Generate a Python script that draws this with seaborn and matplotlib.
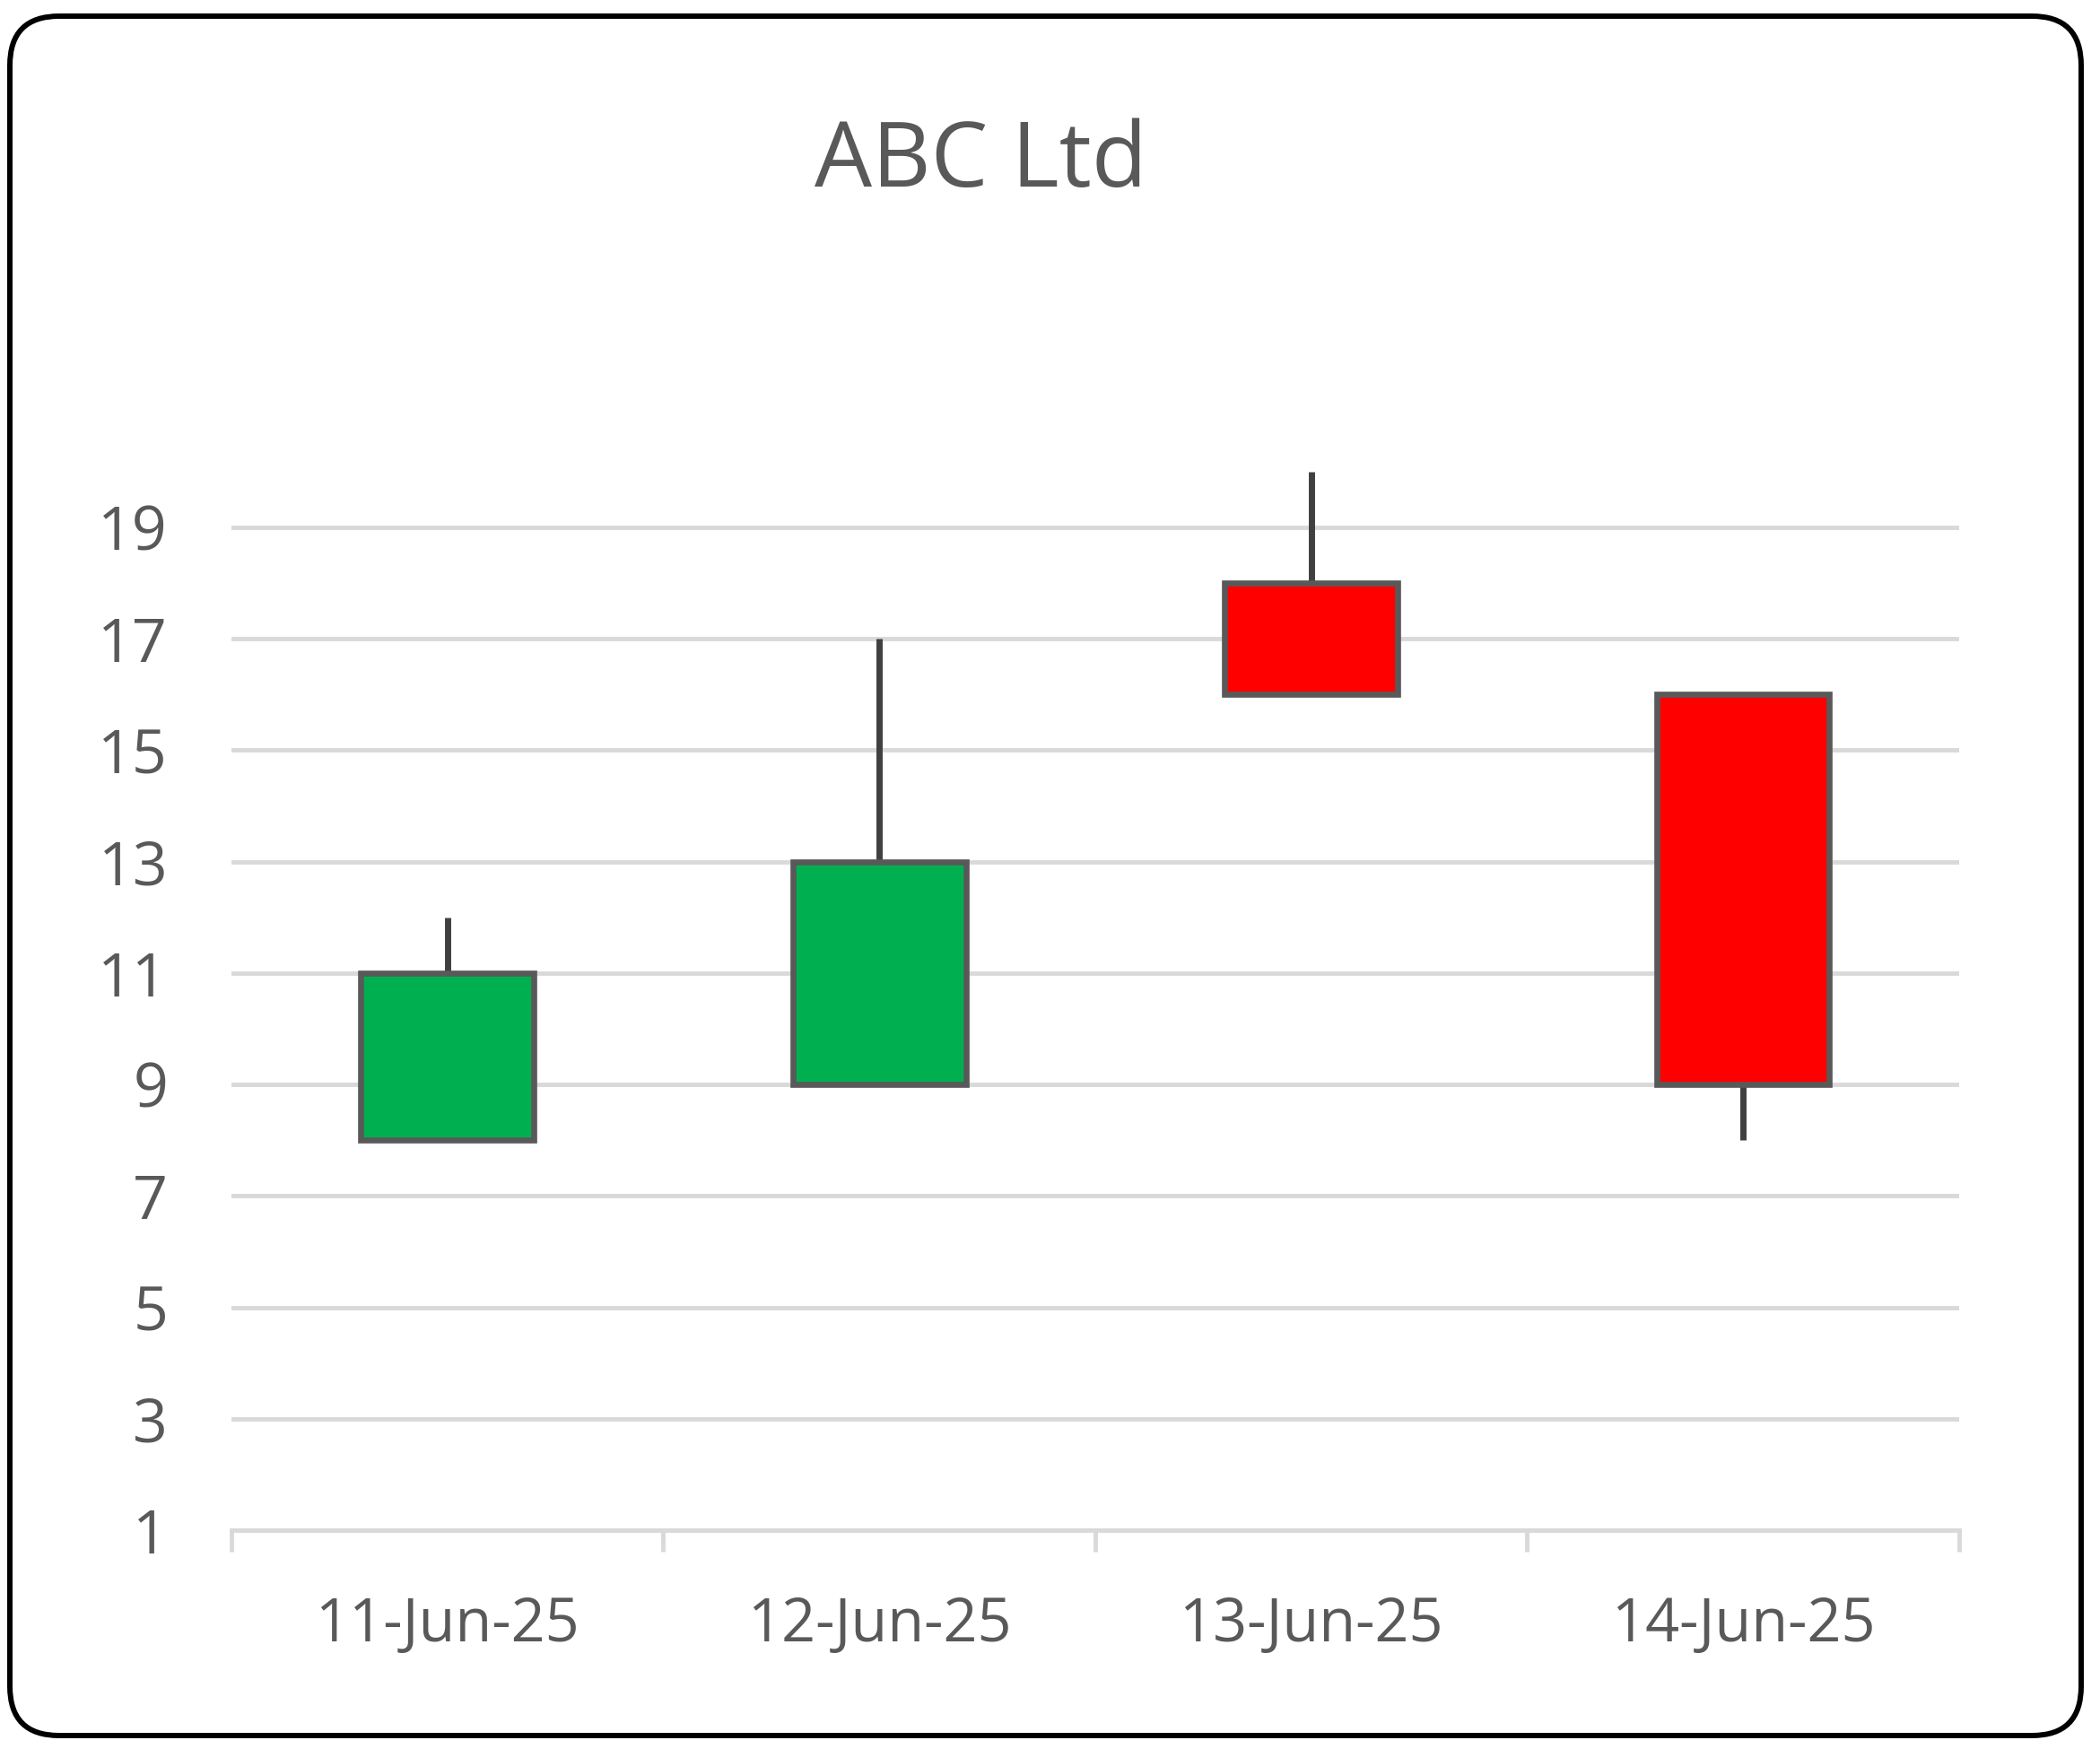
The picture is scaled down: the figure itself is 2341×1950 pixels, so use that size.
import matplotlib
matplotlib.use("Agg")
import matplotlib.pyplot as plt
from matplotlib.patches import FancyBboxPatch
from matplotlib.transforms import IdentityTransform
import seaborn as sns

# Dados OHLC
dates = ['11-Jun-25', '12-Jun-25', '13-Jun-25', '14-Jun-25']
open_prices = [8, 9, 18, 16]
high_prices = [12, 17, 20, 16]
low_prices = [8, 9, 16, 8]
close_prices = [11, 13, 16, 9]
y_ticks = [1, 3, 5, 7, 9, 11, 13, 15, 17, 19]

up_color = '#00B050'
down_color = '#FF0000'
text_color = '#595959'
grid_color = '#D9D9D9'

body_bottom = [min(o, c) for o, c in zip(open_prices, close_prices)]
body_height = [abs(c - o) for o, c in zip(open_prices, close_prices)]
body_colors = [up_color if c > o else down_color
               for o, c in zip(open_prices, close_prices)]

sns.set_style('white')
plt.rcParams['font.family'] = ['Open Sans', 'DejaVu Sans']

fig = plt.figure(figsize=(23.41, 19.5), dpi=100)
ax = fig.add_axes([0.1102, 0.1251, 0.8227, 0.6052])

# Pavios
ax.vlines(range(len(dates)), low_prices, high_prices,
          color='#404040', linewidth=5, zorder=2)

# Corpos
sns.barplot(x=dates, y=body_height, bottom=body_bottom, width=0.4,
            errorbar=None, color=up_color, saturation=1,
            edgecolor=text_color, linewidth=4.8, zorder=3, ax=ax)
for patch, c in zip(ax.patches, body_colors):
    patch.set_facecolor(c)

ax.set_xlim(-0.5, len(dates) - 0.5)
ax.set_ylim(1, 20)
ax.set_yticks(y_ticks)
ax.set_xticks(range(len(dates)))
ax.set_xticklabels(dates)
ax.set_xticks([i - 0.5 for i in range(len(dates) + 1)], minor=True)

ax.yaxis.grid(True, color=grid_color, linewidth=3.5)
ax.xaxis.grid(False)
ax.set_axisbelow(True)
for side in ['left', 'top', 'right']:
    ax.spines[side].set_visible(False)
ax.spines['bottom'].set_color(grid_color)
ax.spines['bottom'].set_linewidth(3.5)

ax.tick_params(axis='y', length=0, pad=51, labelsize=49, labelcolor=text_color)
ax.tick_params(axis='x', which='major', length=0, pad=52, labelsize=48,
               labelcolor=text_color)
ax.tick_params(axis='x', which='minor', bottom=True, length=17, width=3.5,
               color=grid_color, direction='out')
ax.set_xlabel('')
ax.set_ylabel('')

fig.text(0.467, 0.8933, 'ABC Ltd', ha='center', va='baseline',
         fontsize=73, color=text_color)

# Borda arredondada
border = FancyBboxPatch((11, 15), 2309, 1917,
                        boxstyle='round,pad=0,rounding_size=55',
                        transform=IdentityTransform(), facecolor='none',
                        edgecolor='black', linewidth=4.3)
fig.add_artist(border)

fig.savefig('out.png', dpi=100, facecolor='white')
